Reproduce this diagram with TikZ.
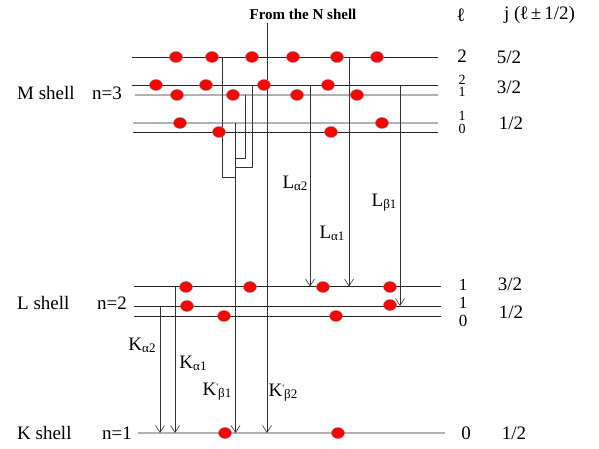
\documentclass[tikz,border=0pt]{standalone}
\usepackage{fontspec}
\setmainfont{Liberation Serif}
\usetikzlibrary{arrows.meta,shapes.geometric}
\begin{document}
\begin{tikzpicture}[x=1pt,y=-1pt,
  lvl/.style={draw=black!85,line width=0.9pt},
  glvl/.style={draw=black!30,line width=1.8pt},
  tr/.style={draw=black!80,line width=0.9pt},
  arr/.style={tr,-{Straight Barb[length=7pt,width=9pt,line width=0.6pt]}},
  dot/.style={ellipse,fill=red,draw=black!50,line width=0.4pt,minimum width=13pt,minimum height=11pt,inner sep=0pt},
  txt/.style={inner sep=0pt,font=\fontsize{19}{19}\selectfont},
  lnum/.style={inner sep=0pt,font=\fontsize{17}{17}\selectfont},
  stk/.style={inner sep=0pt,font=\fontsize{14}{14}\selectfont},
  lab/.style={inner sep=0pt,font=\fontsize{19}{19}\selectfont}]
\useasboundingbox[fill=white] (0,0) rectangle (599,449);
\newcommand{\subt}[1]{\raisebox{-2pt}{\fontsize{13}{13}\selectfont #1}}
\newcommand{\prm}{\raisebox{5pt}{\fontsize{10}{10}\selectfont\textquotesingle}}
% level lines
\draw[lvl]  (132,57)   -- (438,57);
\draw[lvl]  (132,85.5) -- (438,85.5);
\draw[glvl] (135,95)   -- (438,95);
\draw[glvl] (133,123)  -- (438,123);
\draw[lvl]  (133,132)  -- (438,132);
\draw[lvl]  (134,286.5) -- (441,286.5);
\draw[lvl]  (134,306)  -- (441,306);
\draw[lvl]  (134,316)  -- (441,316);
\draw[glvl] (138,433)  -- (445,433);
% coordinates
\coordinate (Ntop) at (267,23);
\coordinate (Nend) at (267,433);
\coordinate (b1s) at (235.5,123);
\coordinate (b1e) at (235.5,433);
\coordinate (ka2s) at (160,306);
\coordinate (ka2e) at (160,433);
\coordinate (ka1s) at (175,286.5);
\coordinate (ka1e) at (175,433);
\coordinate (la2s) at (310,85.5);
\coordinate (la2e) at (310,286.5);
\coordinate (la1s) at (349,57);
\coordinate (la1e) at (349,286.5);
\coordinate (lb1s) at (400,85.5);
\coordinate (lb1e) at (400,306);
% transitions
\draw[arr] (Ntop) -- (Nend);
\draw[arr] (b1s) -- (b1e);
\draw[tr] (222,57) -- (222,177) -- (235.5,177);
\draw[tr] (245,95) -- (245,158) -- (235.5,158);
\draw[tr] (252,85.5) -- (252,167) -- (235.5,167);
\draw[arr] (ka2s) -- (ka2e);
\draw[arr] (ka1s) -- (ka1e);
\draw[arr] (la2s) -- (la2e);
\draw[arr] (la1s) -- (la1e);
\draw[arr] (lb1s) -- (lb1e);
% electrons
\foreach \x/\y [count=\i] in {176/57,212/57,252/57,293/57,337/57,377/57,
  156/85,206/85,264/85,328/85,
  177/95,233/95,297/95,357/95,
  180/123,382/123,219/132,331/132,
  186/287,250/287,323/287,390/287,
  187/306,390/305,224/316,336/316,
  225/433,338/433}
  \node[dot] (e\i) at (\x,\y) {};
% labels
\node[inner sep=0pt,font=\bfseries\fontsize{15}{15}\selectfont] (nsh) at (303,14) {From the N shell};
\node[txt,anchor=west] (msh) at (17,93) {M shell};
\node[txt,anchor=west] (n3) at (92,93) {n=3};
\node[txt,anchor=west] (lsh) at (17,303) {L shell};
\node[txt,anchor=west] (n2) at (97,303) {n=2};
\node[txt,anchor=west] (ksh) at (17,433) {K shell};
\node[txt,anchor=west] (n1) at (102,433) {n=1};
\node[txt] (hl) at (461,15) {\textbf{ℓ}};
\node[txt,anchor=west] (hj) at (504,15) {j (\textbf{ℓ}\,±\,1/2)};
\node[txt] (l1) at (462,56) {2};
\node[stk] (l2) at (462,79.5) {2};
\node[stk] (l3) at (462,92) {1};
\node[stk] (l4) at (462,116) {1};
\node[stk] (l5) at (462,128.5) {0};
\node[lnum] (l6) at (463,284.5) {1};
\node[lnum] (l7) at (463,302.5) {1};
\node[lnum] (l8) at (463,321) {0};
\node[txt] (l9) at (466,433) {0};
\node[txt] (j1) at (509,57) {5/2};
\node[txt] (j2) at (509,87) {3/2};
\node[txt] (j3) at (511,123) {1/2};
\node[txt] (j4) at (510,284) {3/2};
\node[txt] (j5) at (511,312) {1/2};
\node[txt] (j6) at (514,433) {1/2};
\node[lab] (tka2) at (142,345) {K\subt{α2}};
\node[lab] (tka1) at (193,363) {K\subt{α1}};
\node[lab] (tkb1) at (217,392) {K\prm\subt{β1}};
\node[lab] (tkb2) at (283,393) {K\prm\subt{β2}};
\node[lab] (tla2) at (295,183) {L\subt{α2}};
\node[lab] (tla1) at (332,233) {L\subt{α1}};
\node[lab] (tlb1) at (384,203) {L\subt{β1}};
\end{tikzpicture}
\end{document}
